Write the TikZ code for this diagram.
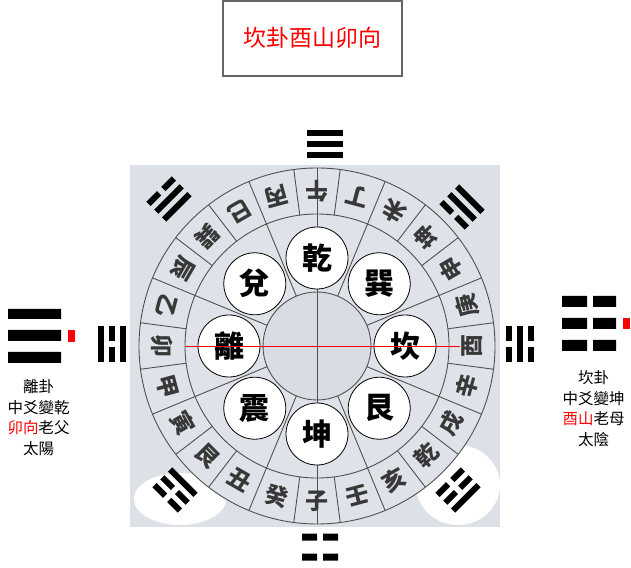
\documentclass[tikz,border=0pt]{standalone}
\usepackage{fontspec}
\newfontfamily\cjk{Noto Sans CJK TC}
\usetikzlibrary{calc}
\definecolor{BgGray}{HTML}{DCE1E7}
\definecolor{WheelGray}{HTML}{DFE3E9}
\definecolor{CenterGray}{HTML}{D9DDE3}
\definecolor{RingLine}{HTML}{505050}
\definecolor{MarkRed}{HTML}{FF0000}
\tikzset{
    gua/.style = {draw, circle, fill=white, line width=0.8pt,
        minimum size=62pt, inner sep=0pt,
        font=\cjk\bfseries\fontsize{30}{30}\selectfont},
    shan/.style = {inner sep=0pt, text=black!78,
        font=\cjk\bfseries\fontsize{23}{23}\selectfont},
    ringline/.style = {draw=RingLine, line width=0.9pt},
    sidetext/.style = {align=center, inner sep=0pt,
        font=\cjk\fontsize{15.5}{20.5}\selectfont},
    titlebox/.style = {draw=black!60, line width=1.2pt},
    titletext/.style = {text=MarkRed, inner sep=0pt,
        font=\cjk\fontsize{23}{23}\selectfont}
}
% one line of a trigram, 1 = solid, 0 = broken
\newcommand{\yao}[2]{%
    \ifnum#2=1
        \fill (-18,#1-3) rectangle (18,#1+3);
    \else
        \fill (-18,#1-3) rectangle (-3,#1+3);
        \fill (3,#1-3) rectangle (18,#1+3);
    \fi}
% trigram at #1, turned by #2, lines from inner to outer
\newcommand{\trigram}[5]{%
    \begin{scope}[shift={#1}, rotate=#2]
        \yao{-11}{#3}\yao{0}{#4}\yao{11}{#5}
    \end{scope}}

\begin{document}
\begin{tikzpicture}[x=1pt, y=1pt]
    \useasboundingbox (0,0) rectangle (631,567);
    % title
    \draw[titlebox] (223,566) rectangle (402,491);
    \node[titletext] (title) at (312.5,529) {坎卦酉山卯向};

    % scanned background
    \fill[BgGray] (130,40) rectangle (500,402);
    \fill[white] (458,82) ellipse (42 and 40);
    \fill[white] (180,68) ellipse (46 and 26);

    % wheel
    \coordinate (O) at (317,221);
    \fill[WheelGray] (O) circle (178);
    \fill[CenterGray] (O) circle (54);
    \foreach \a in {7.5,22.5,...,352.5}
        \draw[ringline] ($(O)+(\a:132)$) -- ($(O)+(\a:178)$);
    \foreach \a in {22.5,67.5,...,337.5}
        \draw[ringline] ($(O)+(\a:54)$) -- ($(O)+(\a:132)$);
    \draw[ringline] ($(O)+(90:178)$) -- ($(O)+(-90:178)$);
    \draw[ringline] (O) circle (178) (O) circle (132) (O) circle (54);

    \foreach \name/\ang/\lab in {qian/90/乾, xun/45/巽, kan/0/坎, gen/-45/艮,
            kun/-90/坤, zhen/-135/震, li/180/離, dui/135/兌}
        \node[gua] (\name) at ($(O)+(\ang:88)$) {\lab};

    \foreach \c [count=\i from 0] in {午,丁,未,坤,申,庚,酉,辛,戌,乾,亥,壬,
            子,癸,丑,艮,寅,甲,卯,乙,辰,巽,巳,丙} {
        \pgfmathsetmacro\ang{90-15*\i}
        \node[shan, rotate=\ang+90] (shan\i) at ($(O)+(\ang:155)$) {\c};
    }

    \coordinate (redL) at (185,220.3);
    \coordinate (redR) at (460,220.3);
    \draw[MarkRed, line width=0.9pt] (redL) -- (redR);

    % trigrams round the wheel
    \trigram{(325,423)}{0}{1}{1}{1}
    \trigram{(462,360)}{-45}{0}{1}{1}
    \trigram{(520,222.5)}{-90}{0}{1}{0}
    \trigram{(458,77)}{-135}{0}{0}{1}
    \trigram{(175,77)}{135}{1}{0}{0}
    \trigram{(111.5,223)}{90}{1}{0}{1}
    \trigram{(169,368)}{45}{1}{1}{0}
    \begin{scope}[shift={(320,20)}]
        \fill (-18,6.5) rectangle (-3,13.5) (3,6.5) rectangle (18,13.5);
        \fill (-18,-13.5) rectangle (-3,-6.5) (3,-13.5) rectangle (18,-6.5);
    \end{scope}

    % left: li changes to qian
    \fill (8,248) rectangle (61,258) (8,226) rectangle (61,237) (8,204) rectangle (61,215);
    \fill[MarkRed] (68,225) rectangle (75,237);
    \node[sidetext] (litext) at (38.5,149.5)
        {離卦\\中爻變乾\\\textcolor{MarkRed}{卯向}老父\\太陽};

    % right: kan changes to kun
    \foreach \y in {260,238,216} {
        \fill (562,\y) rectangle (587,\y+11) (593,\y) rectangle (616,\y+11);
    }
    \fill[MarkRed] (623,238) rectangle (630,249);
    \node[sidetext] (kantext) at (593.5,158.5)
        {坎卦\\中爻變坤\\\textcolor{MarkRed}{酉山}老母\\太陰};
\end{tikzpicture}
\end{document}
